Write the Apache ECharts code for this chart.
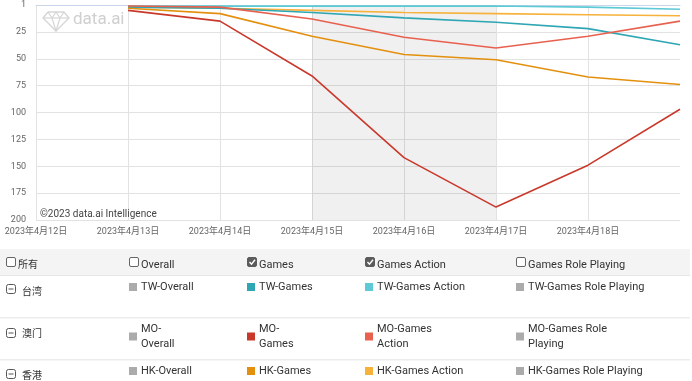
<!DOCTYPE html>
<html>
<head>
<meta charset="utf-8">
<script src="https://cdn.jsdelivr.net/npm/echarts@6/dist/echarts.min.js"></script>
<style>
html,body{margin:0;padding:0;background:#fff;}
#chart{width:692px;height:381px;}
</style>
</head>
<body>
<div id="chart"></div>
<script>
// ---- data ----
const dates = ['2023年4月12日','2023年4月13日','2023年4月14日','2023年4月15日','2023年4月16日','2023年4月17日','2023年4月18日','2023年4月19日'];
const yTicks = [1, 25, 50, 75, 100, 125, 150, 175, 200];
const twGames       = [null, 2, 3, 7, 12, 16, 22, 37];
const twGamesAction = [null, 1, 1, 1, 1, 1, 2, 4];
const moGames       = [null, 5, 15, 66, 142, 188, 149, 97];
const moGamesAction = [null, 1, 2, 13, 30, 40, 29, 15];
const hkGames       = [null, 3, 8, 29, 46, 51, 67, 74];
const hkGamesAction = [null, 2, 3, 5, 7, 8, 9, 10];
const weekend = ['2023年4月15日', '2023年4月17日'];

const headerLabels = ['所有', 'Overall', 'Games', 'Games Action', 'Games Role Playing'];
const headerChecked = [false, false, true, true, false];
const regions = ['台湾', '澳门', '香港'];
const legendRows = [
  ['TW-Overall', 'TW-Games', 'TW-Games Action', 'TW-Games Role Playing'],
  ['MO-\nOverall', 'MO-\nGames', 'MO-Games\nAction', 'MO-Games Role\nPlaying'],
  ['HK-Overall', 'HK-Games', 'HK-Games Action', 'HK-Games Role Playing']
];
const GREY = '#ababab';
const C = {
  twG: '#2ea6b3', twGA: '#5dcad5',
  moG: '#c9392b', moGA: '#e8614f',
  hkG: '#e4900f', hkGA: '#f6b23b'
};
const legendColors = [
  [GREY, C.twG, C.twGA, GREY],
  [GREY, C.moG, C.moGA, GREY],
  [GREY, C.hkG, C.hkGA, GREY]
];

// ---- layout ----
const FONT = 'Roboto, "Noto Sans CJK SC", sans-serif';
const colX = [6, 129, 247, 365, 516];
const rowY = [289, 336.5, 373];
const rowTextY = [287, 336.5, 371];

const graphics = [];
// watermark logo
graphics.push({
  type: 'polyline', silent: true,
  shape: { points: [[48,12],[64,12],[69,18],[56,31],[43,18],[48,12]] },
  style: { stroke: '#d6d6d6', fill: null, lineWidth: 1.4 }
});
graphics.push({ type: 'polyline', silent: true, shape: { points: [[43,18],[69,18]] }, style: { stroke: '#d6d6d6', lineWidth: 1.2 } });
graphics.push({ type: 'polyline', silent: true, shape: { points: [[48,12],[52,18],[56,31],[60,18],[64,12]] }, style: { stroke: '#d6d6d6', fill: null, lineWidth: 1.2 } });
graphics.push({ type: 'polyline', silent: true, shape: { points: [[52,18],[56,12],[60,18]] }, style: { stroke: '#d6d6d6', fill: null, lineWidth: 1.2 } });
graphics.push({ type: 'text', silent: true, x: 73, y: 20, style: { text: 'data.ai', fill: '#cfcfcf', font: '17px ' + FONT, verticalAlign: 'middle' } });
graphics.push({ type: 'text', silent: true, x: 40, y: 214, z: 100, style: { text: '©2023 data.ai Intelligence', fill: '#444', font: '10px ' + FONT, verticalAlign: 'middle' } });

// table header background and separators
graphics.push({ type: 'rect', silent: true, shape: { x: 0, y: 249, width: 690, height: 26 }, style: { fill: '#f4f4f4' } });
graphics.push({ type: 'rect', silent: true, shape: { x: 0, y: 275, width: 690, height: 1 }, style: { fill: '#e6e6e6' } });
graphics.push({ type: 'rect', silent: true, shape: { x: 0, y: 317, width: 690, height: 1.5 }, style: { fill: '#ececec' } });
graphics.push({ type: 'rect', silent: true, shape: { x: 0, y: 359, width: 690, height: 1.5 }, style: { fill: '#ececec' } });

// header checkboxes
headerLabels.forEach((lab, i) => {
  const x = colX[i];
  const checked = headerChecked[i];
  graphics.push({ type: 'rect', silent: true, shape: { x: x + 0.5, y: 257.5, width: 9, height: 9, r: 1.5 },
    style: { fill: checked ? '#5c5c5c' : '#fff', stroke: checked ? '#5c5c5c' : '#666', lineWidth: 1 } });
  if (checked) {
    graphics.push({ type: 'polyline', silent: true, shape: { points: [[x + 2.5, 262], [x + 4.5, 264.2], [x + 8, 259.8]] },
      style: { stroke: '#fff', lineWidth: 1.4, fill: null } });
  }
  const isCJK = i === 0;
  graphics.push({ type: 'text', silent: true, x: x + (isCJK ? 12 : 12), y: isCJK ? 265.5 : 265,
    style: { text: lab, fill: '#333', font: (isCJK ? '10px ' : '11px ') + FONT, verticalAlign: 'middle' } });
});

// rows
regions.forEach((reg, r) => {
  const cy = rowY[r];
  // collapse icon
  const iy = [289, 333, 374][r];
  graphics.push({ type: 'rect', silent: true, shape: { x: 6.5, y: iy - 4.5, width: 9, height: 9, r: 2 },
    style: { fill: '#fff', stroke: '#555', lineWidth: 1 } });
  graphics.push({ type: 'rect', silent: true, shape: { x: 8.5, y: iy - 0.5, width: 5, height: 1 }, style: { fill: '#555' } });
  graphics.push({ type: 'text', silent: true, x: 22, y: [292, 334, 376][r],
    style: { text: reg, fill: '#333', font: '10px ' + FONT, verticalAlign: 'middle' } });
  legendRows[r].forEach((lab, c) => {
    const x = colX[c + 1];
    const sy = [287, 336.5, 371][r];
    graphics.push({ type: 'rect', silent: true, shape: { x: x, y: sy - 4, width: 8, height: 8 }, style: { fill: legendColors[r][c] } });
    graphics.push({ type: 'text', silent: true, x: x + 12, y: rowTextY[r],
      style: { text: lab, fill: '#333', font: '11px ' + FONT, verticalAlign: 'middle', lineHeight: 15 } });
  });
});

function line(name, data, color) {
  return {
    name: name, type: 'line', data: data, showSymbol: false, symbol: 'none',
    lineStyle: { color: color, width: 1.6 }, itemStyle: { color: color },
    connectNulls: false, animation: false
  };
}

const series = [
  line('TW-Games Action', twGamesAction, C.twGA),
  line('HK-Games Action', hkGamesAction, C.hkGA),
  line('TW-Games', twGames, C.twG),
  line('MO-Games Action', moGamesAction, C.moGA),
  line('HK-Games', hkGames, C.hkG),
  line('MO-Games', moGames, C.moG)
];
series[0].markArea = {
  silent: true,
  itemStyle: { color: 'rgba(0,0,0,0.06)' },
  data: [[{ xAxis: weekend[0] }, { xAxis: weekend[1] }]]
};

const chart = echarts.init(document.getElementById('chart'), null, { renderer: 'canvas' });
chart.setOption({
  animation: false,
  backgroundColor: '#fff',
  grid: { left: 36, right: 12, top: 5, bottom: 161, containLabel: false },
  xAxis: {
    type: 'category', data: dates, boundaryGap: false,
    axisLine: { show: true, lineStyle: { color: '#ccd6eb', width: 1 } },
    axisTick: { show: false },
    splitLine: { show: true, lineStyle: { color: '#e2e2e2', width: 1 } },
    axisLabel: {
      color: '#666', fontSize: 9, fontFamily: FONT, margin: 7,
      interval: (idx) => idx < dates.length - 1
    }
  },
  yAxis: {
    type: 'value', inverse: true, min: 0, max: 200, interval: 25,
    axisLine: { show: false }, axisTick: { show: false },
    splitLine: { lineStyle: { color: '#e2e2e2', width: 1 } },
    axisLabel: {
      color: '#666', fontSize: 9, fontFamily: FONT, margin: 10,
      formatter: (v) => (v === 0 ? String(yTicks[0]) : String(v))
    }
  },
  series: series,
  graphic: graphics
});
</script>
</body>
</html>
